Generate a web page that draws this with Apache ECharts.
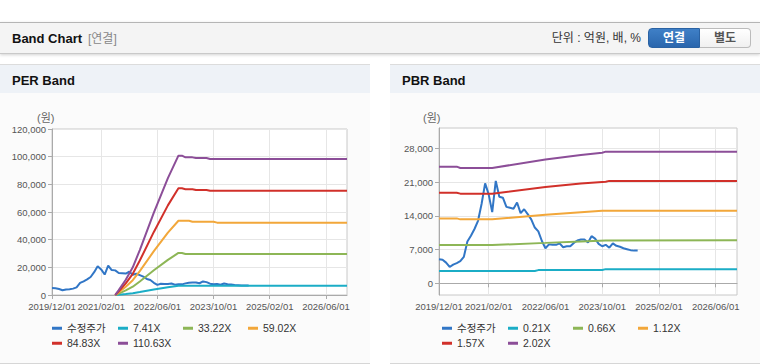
<!DOCTYPE html>
<html><head><meta charset="utf-8">
<script src="https://cdn.jsdelivr.net/npm/echarts@6/dist/echarts.min.js"></script>
<style>
html,body{margin:0;padding:0;background:#fff;}
body{width:760px;height:364px;position:relative;overflow:hidden;font-family:"Liberation Sans","Noto Sans CJK KR",Arial,sans-serif;}
.topbar{position:absolute;left:0;top:22px;width:760px;height:30px;background:#f4f4f4;border-top:1px solid #b5b5b5;border-bottom:1px solid #c9c9c9;box-shadow:0 1px 3px rgba(0,0,0,0.18);}
.ttl{position:absolute;left:12px;top:1px;line-height:30px;font-size:13px;font-weight:bold;color:#111;}
.sub{position:absolute;left:88px;top:1px;line-height:30px;font-size:12px;color:#888;}
.unit{position:absolute;right:119px;top:0;line-height:30px;font-size:12px;color:#333;}
.btn{position:absolute;top:5px;height:20px;line-height:18px;text-align:center;font-size:12px;font-weight:bold;box-sizing:border-box;}
.b1{left:648px;width:52px;background:linear-gradient(#3f80c7,#2a66ad);color:#fff;border:1px solid #2a62a3;border-radius:4px 0 0 4px;}
.b2{left:700px;width:51px;background:linear-gradient(#fff,#f0f0f0);color:#555;border:1px solid #bbb;border-left:none;border-radius:0 4px 4px 0;}
.panel{position:absolute;top:64px;width:370px;height:298px;background:#fbfbfb;border-top:1px solid #dcdcdc;border-bottom:1px solid #d6d6d6;}
.ph{position:absolute;left:0;top:0;width:370px;height:28px;background:#eef2f7;}
.ph span{position:absolute;left:12px;top:2px;line-height:28px;font-size:13px;font-weight:bold;color:#111;}
.chart{position:absolute;left:0;top:28px;width:370px;height:270px;}
</style>
</head>
<body>
<div class="topbar">
  <span class="ttl">Band Chart</span><span class="sub">[연결]</span>
  <span class="unit">단위 : 억원, 배, %</span>
  <div class="btn b1">연결</div><div class="btn b2">별도</div>
</div>
<div class="panel" style="left:0"><div class="ph"><span>PER Band</span></div><div class="chart" id="per"></div></div>
<div class="panel" style="left:390px"><div class="ph"><span>PBR Band</span></div><div class="chart" id="pbr"></div></div>
<script>
// ---------- data ----------
const categories = [
'2019/12/01',
'2020/01/01','2020/02/01','2020/03/01','2020/04/01','2020/05/01','2020/06/01','2020/07/01','2020/08/01','2020/09/01','2020/10/01','2020/11/01','2020/12/01',
'2021/01/01','2021/02/01','2021/03/01','2021/04/01','2021/05/01','2021/06/01','2021/07/01','2021/08/01','2021/09/01','2021/10/01','2021/11/01','2021/12/01',
'2022/01/01','2022/02/01','2022/03/01','2022/04/01','2022/05/01','2022/06/01','2022/07/01','2022/08/01','2022/09/01','2022/10/01','2022/11/01','2022/12/01',
'2023/01/01','2023/02/01','2023/03/01','2023/04/01','2023/05/01','2023/06/01','2023/07/01','2023/08/01','2023/09/01','2023/10/01','2023/11/01','2023/12/01',
'2024/01/01','2024/02/01','2024/03/01','2024/04/01','2024/05/01','2024/06/01','2024/07/01','2024/08/01','2024/09/01','2024/10/01','2024/11/01','2024/12/01',
'2025/01/01','2025/02/01','2025/03/01','2025/04/01','2025/05/01','2025/06/01','2025/07/01','2025/08/01','2025/09/01','2025/10/01','2025/11/01','2025/12/01',
'2026/01/01','2026/02/01','2026/03/01','2026/04/01','2026/05/01','2026/06/01','2026/07/01','2026/08/01','2026/09/01','2026/10/01','2026/11/01','2026/12/01'
];
const xTickLabels = ['2019/12/01','2021/02/01','2022/06/01','2023/10/01','2025/02/01','2026/06/01'];
const perTicks = [0,20000,40000,60000,80000,100000,120000];
const pbrTicks = [0,7000,14000,21000,28000];

// 수정주가 (monthly, 2019/12 ~ 2024/08)
const price = [5000,4900,4300,3400,3900,4200,4600,5500,8700,9900,11300,13000,16500,20800,18500,14800,21300,18000,17800,15900,15700,15500,16800,14600,15400,14400,13300,11600,10800,8800,7300,8100,8000,8000,8300,7500,7700,7700,8400,8900,9100,9100,8500,9800,9300,8200,7700,8000,7400,8300,7800,7600,7300,7100,6900,6800,6800];

// PER bands
const perNames = ['7.41X','33.22X','59.02X','84.83X','110.63X'];
const per741 = [['2021/06/01',0],['2021/07/01',230],['2021/09/01',740],['2021/11/01',1340],['2022/01/01',2180],['2022/05/01',3990],['2022/09/01',5660],['2022/12/01',6750],['2023/02/01',6650],['2023/09/01',6600],['2026/12/01',6600]];
const per3322 = [['2021/06/01',0],['2021/07/01',1050],['2021/09/01',3300],['2021/11/01',6000],['2022/01/01',9800],['2022/05/01',17900],['2022/09/01',25400],['2022/12/01',30400],['2023/01/01',30400],['2023/02/01',29700],['2026/12/01',29700]];
const per5902 = [['2021/06/01',0],['2021/07/01',1900],['2021/09/01',5900],['2021/11/01',10700],['2022/01/01',17300],['2022/05/01',31700],['2022/09/01',45100],['2022/12/01',53700],['2023/03/01',53700],['2023/04/01',53000],['2023/10/01',53000],['2023/11/01',52300],['2026/12/01',52300]];
const per8483 = [['2021/06/01',0],['2021/07/01',2700],['2021/09/01',8400],['2021/11/01',15300],['2022/01/01',24900],['2022/05/01',45600],['2022/09/01',64800],['2022/12/01',77100],['2023/01/01',77100],['2023/02/01',76500],['2023/04/01',76500],['2023/05/01',75900],['2023/08/01',75900],['2023/09/01',75300],['2026/12/01',75300]];
const per11063 = [['2021/06/01',0],['2021/07/01',3500],['2021/09/01',11000],['2021/11/01',20000],['2022/01/01',32500],['2022/05/01',59500],['2022/09/01',84500],['2022/12/01',100700],['2023/01/01',100700],['2023/02/01',99500],['2023/04/01',99500],['2023/05/01',99000],['2023/08/01',99000],['2023/09/01',98300],['2026/12/01',98300]];

// PBR bands
const pbrNames = ['0.21X','0.66X','1.12X','1.57X','2.02X'];
const pbr021 = [['2019/12/01',2550],['2022/03/01',2550],['2022/04/01',2750],['2023/10/01',2780],['2023/11/01',2950],['2026/12/01',2950]];
const pbr066 = [['2019/12/01',7950],['2021/03/01',7950],['2022/06/01',8410],['2023/04/01',8720],['2023/11/01',8900],['2026/12/01',8950]];
const pbr112 = [['2019/12/01',13500],['2020/05/01',13500],['2020/06/01',13300],['2021/03/01',13300],['2022/06/01',14280],['2023/04/01',14800],['2023/10/01',15070],['2026/12/01',15100]];
const pbr157 = [['2019/12/01',18850],['2020/05/01',18850],['2020/06/01',18650],['2021/03/01',18650],['2022/06/01',20010],['2023/04/01',20750],['2023/11/01',21120],['2023/12/01',21300],['2026/12/01',21300]];
const pbr202 = [['2019/12/01',24260],['2020/05/01',24260],['2020/06/01',23990],['2021/03/01',23990],['2022/06/01',25750],['2023/04/01',26700],['2023/10/01',27170],['2023/11/01',27380],['2026/12/01',27380]];

// ---------- styling ----------
const colors = ['#3176c6','#1badc6','#8db656','#f2a73a','#d1302a','#8c4e98'];
const FONT = '"Liberation Sans","Noto Sans CJK KR",Arial,sans-serif';
const showIdx = (i) => xTickLabels.indexOf(categories[i]) >= 0;
const fmt = (v) => Number(v).toLocaleString('en-US');

function build(names, bands, grid, yCfg, unitPos) {
  const allNames = ['수정주가'].concat(names);
  const allData = [price].concat(bands);
  const series = allData.map((d, i) => ({
    name: allNames[i], type: 'line', data: d, symbol: 'none', showSymbol: false,
    lineStyle: {width: 2, color: colors[i]}, itemStyle: {color: colors[i]},
    emphasis: {disabled: true}, animation: false
  }));
  const colX = [52, 118, 183, 248];
  const legends = allNames.map((n, i) => ({
    data: [n], left: colX[i % 4], top: i < 4 ? 230 : 245, padding: 0,
    icon: 'rect', itemWidth: 10, itemHeight: 3, selectedMode: false,
    textStyle: {fontSize: 10.5, color: '#333', fontFamily: FONT}
  }));
  return {
    animation: false,
    grid: Object.assign({show: true, backgroundColor: '#fff', borderColor: '#c8c8c8', borderWidth: 1}, grid),
    legend: legends,
    graphic: [{type: 'text', left: unitPos, top: 19, style: {text: '(원)', font: '11px ' + FONT, fill: '#666'}}],
    xAxis: {
      type: 'category', data: categories, boundaryGap: false,
      axisLine: {lineStyle: {color: '#aaa'}},
      axisTick: {show: true, interval: showIdx, length: 4, lineStyle: {color: '#aaa'}},
      axisLabel: {interval: showIdx, fontSize: 9.5, color: '#555', margin: 7, fontFamily: FONT, showMinLabel: true},
      splitLine: {show: true, interval: showIdx, lineStyle: {color: '#e6e6e6'}}
    },
    yAxis: Object.assign({
      type: 'value',
      axisLine: {show: true, lineStyle: {color: '#aaa'}},
      splitLine: {show: true, lineStyle: {color: '#e6e6e6'}}
    }, yCfg),
    series: series
  };
}

const perChart = echarts.init(document.getElementById('per'), null, {renderer: 'svg'});
perChart.setOption(build(perNames, [per741, per3322, per5902, per8483, per11063],
  {left: 52, top: 36, width: 295, height: 166},
  {min: 0, max: 120000, interval: 20000,
   axisTick: {show: true, length: 4, lineStyle: {color: '#aaa'}},
   axisLabel: {fontSize: 9.5, color: '#555', margin: 6, fontFamily: FONT, formatter: fmt}},
  37));

const pbrChart = echarts.init(document.getElementById('pbr'), null, {renderer: 'svg'});
pbrChart.setOption(build(pbrNames, [pbr021, pbr066, pbr112, pbr157, pbr202],
  {left: 49, top: 35, width: 298, height: 167},
  {min: -2430, max: 32300,
   axisTick: {show: true, length: 4, customValues: pbrTicks, lineStyle: {color: '#aaa'}},
   axisLabel: {fontSize: 9.5, color: '#555', margin: 6, fontFamily: FONT, formatter: fmt, customValues: pbrTicks}},
  33));
</script>
</body></html>
